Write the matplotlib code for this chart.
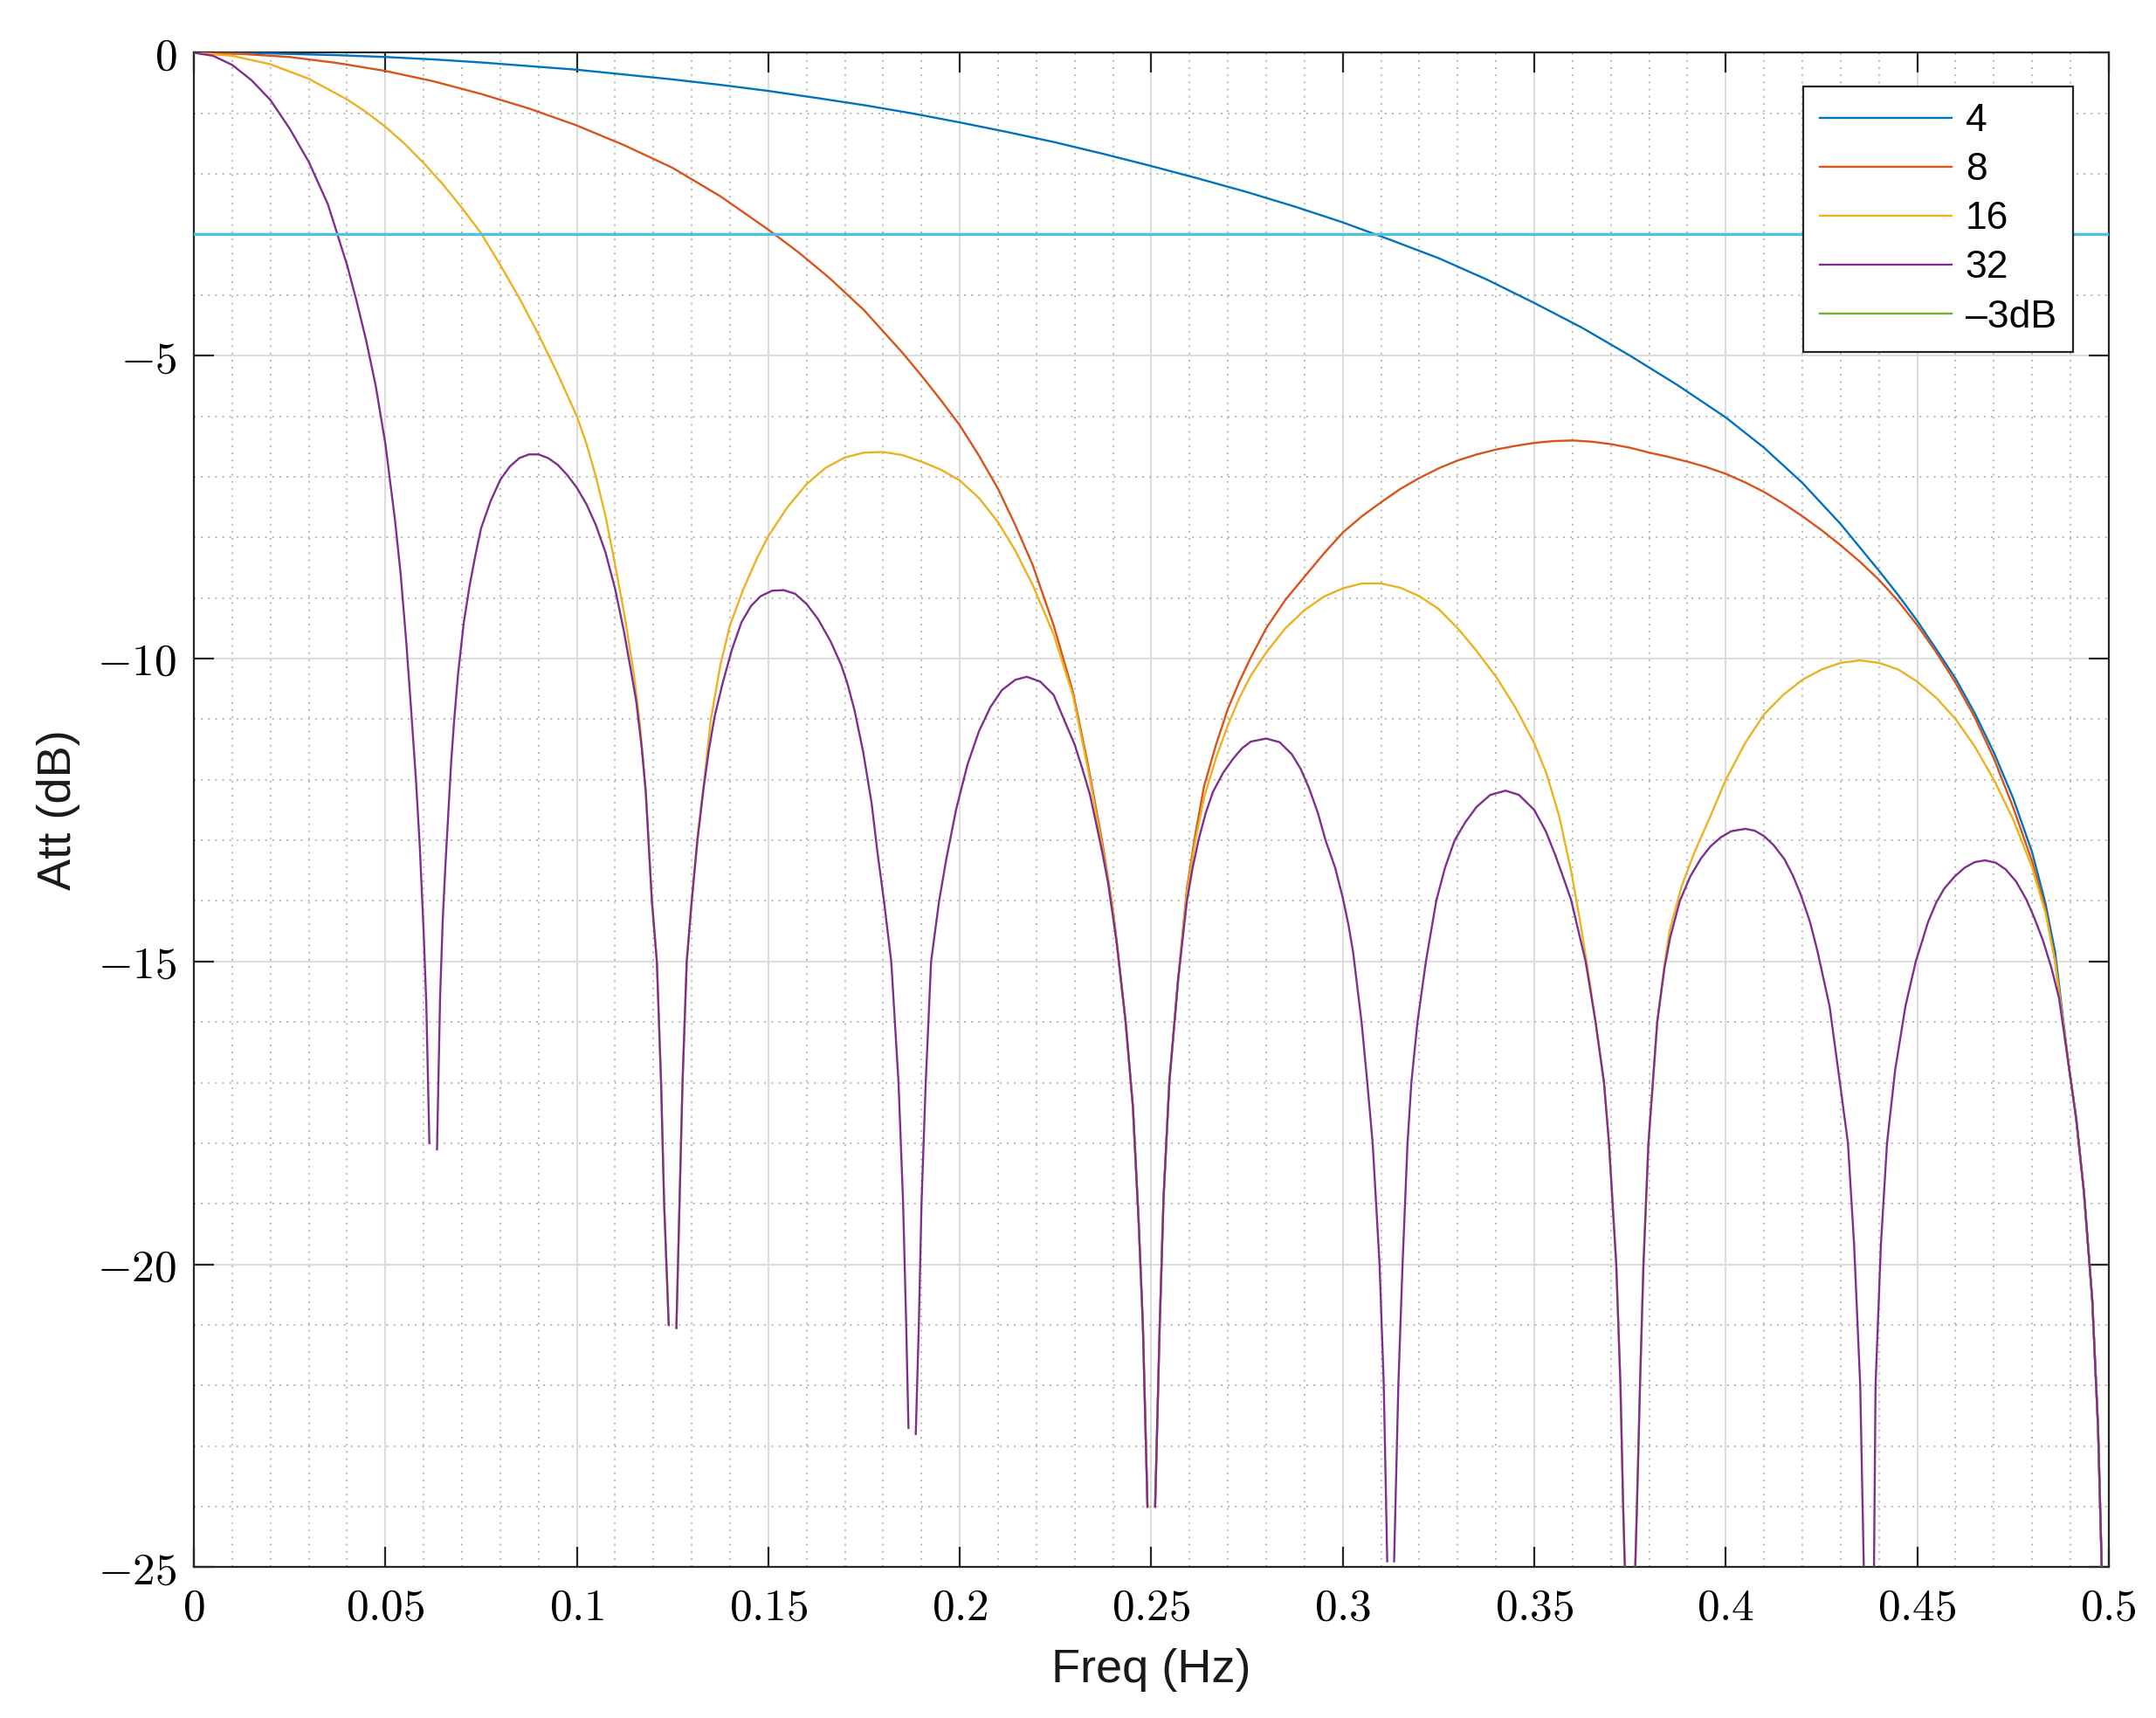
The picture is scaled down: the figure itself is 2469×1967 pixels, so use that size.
import numpy as np
import matplotlib
matplotlib.use("Agg")
import matplotlib.pyplot as plt
from matplotlib.ticker import FixedLocator, FixedFormatter, MultipleLocator

NEG_INF = float("-inf")

# ---------------- data: (freq Hz, attenuation dB) ----------------
legend_labels = ["4", "8", "16", "32", "\u20133dB"]
threshold_db = -3.0

resp4 = [(0, 0), (0.0125, 0), (0.025, -0.02), (0.0375, -0.04), (0.05, -0.07), (0.0625, -0.11),
         (0.075, -0.16), (0.0875, -0.22), (0.1, -0.28), (0.1125, -0.36), (0.125, -0.44),
         (0.1375, -0.53), (0.15, -0.63), (0.1625, -0.745), (0.175, -0.865), (0.1875, -1.0),
         (0.2, -1.15), (0.2125, -1.31), (0.225, -1.48), (0.2375, -1.67), (0.25, -1.87),
         (0.2625, -2.08), (0.275, -2.3), (0.2875, -2.54), (0.3, -2.8), (0.3125, -3.09),
         (0.325, -3.39), (0.3375, -3.74), (0.35, -4.13), (0.3625, -4.54), (0.375, -5.0),
         (0.3875, -5.49), (0.4, -6.02), (0.41, -6.52), (0.42, -7.1), (0.43, -7.78), (0.44, -8.55),
         (0.445, -8.95), (0.45, -9.38), (0.455, -9.85), (0.46, -10.33), (0.465, -10.9),
         (0.47, -11.55), (0.475, -12.3), (0.48, -13.2), (0.4835, -14.05), (0.486, -14.85),
         (0.4895, -16.7), (0.4915, -17.6), (0.4935, -18.8), (0.4957, -20.6), (0.4972, -22.7),
         (0.499, -27.0), (0.5, NEG_INF)]

resp8 = [(0, 0), (0.0125, -0.02), (0.025, -0.07), (0.0375, -0.17), (0.05, -0.3), (0.0625, -0.47),
         (0.075, -0.68), (0.0875, -0.92), (0.1, -1.2), (0.1125, -1.53), (0.125, -1.9),
         (0.1375, -2.37), (0.15, -2.92), (0.158, -3.3), (0.166, -3.72), (0.175, -4.25), (0.18, -4.6),
         (0.185, -4.95), (0.19, -5.33), (0.195, -5.73), (0.2, -6.15), (0.205, -6.65), (0.21, -7.2),
         (0.2145, -7.8), (0.219, -8.45), (0.2245, -9.45), (0.2295, -10.54), (0.2334, -11.73),
         (0.2372, -13.03), (0.24, -14.15), (0.2433, -16.0), (0.2452, -17.4), (0.2467, -19.3),
         (0.2478, -21.0), (0.249, -24.0), (0.25, NEG_INF), (0.251, -24.0), (0.2522, -21.0),
         (0.2532, -18.9), (0.2547, -17.0), (0.257, -15.3), (0.2593, -13.8), (0.2615, -12.9),
         (0.2638, -12.1), (0.267, -11.4), (0.27, -10.83), (0.273, -10.38), (0.276, -9.98),
         (0.28, -9.5), (0.285, -9.03), (0.29, -8.65), (0.295, -8.27), (0.3, -7.92), (0.305, -7.65),
         (0.31, -7.42), (0.315, -7.2), (0.32, -7.02), (0.325, -6.86), (0.33, -6.73), (0.335, -6.63),
         (0.34, -6.55), (0.345, -6.49), (0.35, -6.44), (0.355, -6.41), (0.36, -6.4), (0.365, -6.42),
         (0.37, -6.46), (0.375, -6.52), (0.38, -6.6), (0.385, -6.67), (0.39, -6.75), (0.395, -6.84),
         (0.4, -6.95), (0.405, -7.09), (0.41, -7.25), (0.415, -7.44), (0.42, -7.65), (0.425, -7.88),
         (0.43, -8.13), (0.435, -8.4), (0.44, -8.7), (0.445, -9.05), (0.45, -9.45), (0.455, -9.9),
         (0.46, -10.4), (0.465, -10.97), (0.47, -11.65), (0.475, -12.45), (0.48, -13.35),
         (0.4835, -14.15), (0.486, -15.0), (0.4895, -16.7), (0.4915, -17.6), (0.4935, -18.8),
         (0.4957, -20.6), (0.4972, -22.7), (0.499, -27.0), (0.5, NEG_INF)]

resp16 = [(0, 0), (0.01, -0.05), (0.02, -0.19), (0.03, -0.43), (0.04, -0.77), (0.045, -0.98),
          (0.05, -1.22), (0.055, -1.5), (0.06, -1.82), (0.065, -2.17), (0.07, -2.56),
          (0.075, -2.98), (0.08, -3.5), (0.085, -4.05), (0.09, -4.65), (0.095, -5.3), (0.1, -6.0),
          (0.1025, -6.45), (0.105, -7.0), (0.1075, -7.65), (0.11, -8.45), (0.1125, -9.3),
          (0.115, -10.3), (0.1165, -11.1), (0.118, -12.2), (0.1196, -14.0), (0.1209, -15.0),
          (0.122, -17.0), (0.1228, -19.0), (0.124, -21.0), (0.125, NEG_INF), (0.126, -21.05),
          (0.1268, -19.0), (0.1276, -17.0), (0.1287, -15.0), (0.13, -14.0), (0.1315, -12.95),
          (0.1331, -12.1), (0.135, -11.0), (0.1375, -10.1), (0.14, -9.45), (0.1435, -8.85),
          (0.147, -8.35), (0.15, -7.98), (0.155, -7.5), (0.16, -7.12), (0.165, -6.85),
          (0.17, -6.68), (0.175, -6.6), (0.18, -6.59), (0.185, -6.64), (0.19, -6.75),
          (0.195, -6.88), (0.2, -7.06), (0.205, -7.35), (0.21, -7.75), (0.2145, -8.22),
          (0.219, -8.78), (0.2245, -9.6), (0.2295, -10.6), (0.2334, -11.8), (0.2372, -13.1),
          (0.24, -14.15), (0.2433, -16.0), (0.2452, -17.4), (0.2467, -19.3), (0.2478, -21.0),
          (0.249, -24.0), (0.25, NEG_INF), (0.251, -24.0), (0.2522, -21.0), (0.2532, -18.9),
          (0.2547, -17.0), (0.257, -15.3), (0.2593, -13.86), (0.2615, -13.0), (0.2638, -12.29),
          (0.267, -11.62), (0.27, -11.1), (0.273, -10.65), (0.276, -10.28), (0.28, -9.9),
          (0.285, -9.5), (0.29, -9.2), (0.295, -8.98), (0.3, -8.84), (0.305, -8.76),
          (0.31, -8.76), (0.315, -8.83), (0.32, -8.97), (0.325, -9.18), (0.33, -9.5),
          (0.335, -9.88), (0.34, -10.3), (0.345, -10.8), (0.35, -11.4), (0.3532, -11.9),
          (0.3565, -12.6), (0.3596, -13.5), (0.362, -14.35), (0.3645, -15.35), (0.366, -16.0),
          (0.3682, -17.0), (0.3695, -18.0), (0.3714, -20.0), (0.3725, -22.0), (0.3732, -24.0),
          (0.374, -25.8), (0.375, NEG_INF), (0.376, -25.8), (0.3768, -24.0), (0.3776, -22.0),
          (0.3785, -20.0), (0.3798, -18.0), (0.3821, -16.0), (0.384, -15.05), (0.3853, -14.5),
          (0.3885, -13.75), (0.3918, -13.2), (0.396, -12.6), (0.4, -12.0), (0.405, -11.4),
          (0.41, -10.92), (0.415, -10.6), (0.42, -10.35), (0.425, -10.18), (0.43, -10.07),
          (0.435, -10.03), (0.44, -10.07), (0.445, -10.18), (0.45, -10.38), (0.455, -10.65),
          (0.46, -11.0), (0.465, -11.45), (0.47, -12.0), (0.475, -12.65), (0.48, -13.45),
          (0.4835, -14.2), (0.486, -15.0), (0.4895, -16.7), (0.4915, -17.6), (0.4935, -18.8),
          (0.4957, -20.6), (0.4972, -22.7), (0.499, -27.0), (0.5, NEG_INF)]

resp32 = [(0, 0), (0.005, -0.05), (0.01, -0.2), (0.015, -0.45), (0.02, -0.78), (0.025, -1.25),
          (0.03, -1.8), (0.035, -2.5), (0.0375, -3.0), (0.04, -3.5), (0.0425, -4.1), (0.045, -4.75),
          (0.0475, -5.5), (0.05, -6.45), (0.0525, -7.7), (0.054, -8.6), (0.0555, -9.75),
          (0.0568, -10.9), (0.058, -12.0), (0.059, -13.1), (0.06, -14.5), (0.0607, -15.7),
          (0.0615, -18.0), (0.0625, NEG_INF), (0.0635, -18.1), (0.0643, -15.6), (0.065, -14.3),
          (0.0657, -13.4), (0.0664, -12.6), (0.0672, -11.7), (0.068, -11.0), (0.069, -10.25),
          (0.0705, -9.4), (0.072, -8.8), (0.0735, -8.3), (0.075, -7.85), (0.0775, -7.4),
          (0.08, -7.05), (0.0825, -6.83), (0.085, -6.69), (0.0875, -6.63), (0.09, -6.63),
          (0.0925, -6.69), (0.095, -6.8), (0.0975, -6.97), (0.1, -7.18), (0.1025, -7.45),
          (0.105, -7.8), (0.1075, -8.25), (0.11, -8.85), (0.1123, -9.55), (0.114, -10.15),
          (0.1155, -10.7), (0.117, -11.5), (0.118, -12.2), (0.1196, -14.0), (0.1209, -15.0),
          (0.122, -17.0), (0.1228, -19.0), (0.124, -21.0), (0.125, NEG_INF), (0.126, -21.05),
          (0.1268, -19.0), (0.1276, -17.0), (0.1287, -15.0), (0.13, -14.0), (0.1315, -13.0),
          (0.1331, -12.14), (0.1345, -11.5), (0.136, -10.95), (0.1381, -10.4), (0.1405, -9.85),
          (0.143, -9.4), (0.1455, -9.13), (0.148, -8.97), (0.151, -8.88), (0.154, -8.87),
          (0.157, -8.93), (0.16, -9.1), (0.163, -9.35), (0.1663, -9.72), (0.169, -10.1),
          (0.1706, -10.4), (0.1725, -10.85), (0.1748, -11.55), (0.177, -12.4), (0.1785, -13.2),
          (0.1802, -14.0), (0.1821, -15.0), (0.184, -17.0), (0.1852, -19.0), (0.186, -21.0),
          (0.1866, -22.7), (0.1875, NEG_INF), (0.1885, -22.8), (0.1893, -21.0), (0.19, -19.0),
          (0.1911, -17.0), (0.1925, -15.0), (0.1946, -14.0), (0.1965, -13.3), (0.199, -12.5),
          (0.202, -11.75), (0.205, -11.2), (0.208, -10.8), (0.211, -10.52), (0.2145, -10.35),
          (0.2175, -10.3), (0.221, -10.38), (0.2245, -10.6), (0.2275, -11.05), (0.23, -11.42),
          (0.232, -11.82), (0.234, -12.25), (0.2357, -12.75), (0.2372, -13.2), (0.2387, -13.7),
          (0.241, -14.7), (0.2433, -16.0), (0.2452, -17.4), (0.2467, -19.3), (0.2478, -21.0),
          (0.249, -24.0), (0.25, NEG_INF), (0.251, -24.0), (0.2522, -21.0), (0.2532, -18.9),
          (0.2547, -17.0), (0.257, -15.3), (0.2593, -14.0), (0.2608, -13.45), (0.2623, -13.0),
          (0.2642, -12.55), (0.2661, -12.2), (0.2688, -11.88), (0.2714, -11.65), (0.2737, -11.48),
          (0.276, -11.37), (0.28, -11.32), (0.2835, -11.38), (0.2867, -11.58), (0.289, -11.82),
          (0.2912, -12.14), (0.2935, -12.55), (0.2955, -13.0), (0.298, -13.45), (0.3, -13.95),
          (0.3015, -14.4), (0.3027, -14.85), (0.3049, -16.0), (0.3064, -17.0), (0.3078, -18.0),
          (0.3096, -20.0), (0.3107, -22.0), (0.3116, -24.9), (0.3125, NEG_INF), (0.3134, -24.9),
          (0.3145, -22.0), (0.3156, -20.0), (0.3169, -18.0), (0.3179, -17.0), (0.3195, -16.0),
          (0.3217, -15.0), (0.3244, -14.0), (0.3267, -13.45), (0.3292, -13.0), (0.332, -12.7),
          (0.3349, -12.45), (0.3385, -12.25), (0.3425, -12.18), (0.346, -12.25), (0.35, -12.5),
          (0.353, -12.85), (0.3554, -13.23), (0.3575, -13.6), (0.3596, -13.98), (0.3634, -15.0),
          (0.366, -16.0), (0.3682, -17.0), (0.3695, -18.0), (0.3714, -20.0), (0.3725, -22.0),
          (0.3732, -24.0), (0.374, -25.8), (0.375, NEG_INF), (0.376, -25.8), (0.3768, -24.0),
          (0.3776, -22.0), (0.3785, -20.0), (0.3798, -18.0), (0.3821, -16.0), (0.384, -15.1),
          (0.3855, -14.6), (0.388, -14.0), (0.3907, -13.6), (0.3935, -13.3), (0.396, -13.1),
          (0.3987, -12.95), (0.4014, -12.85), (0.4051, -12.81), (0.4075, -12.84), (0.41, -12.93),
          (0.4125, -13.08), (0.4153, -13.31), (0.4175, -13.58), (0.4196, -13.9), (0.422, -14.35),
          (0.4239, -14.82), (0.4271, -15.74), (0.4298, -17.0), (0.4319, -18.0), (0.4335, -19.67),
          (0.4351, -22.0), (0.4365, -26.5), (0.4375, NEG_INF), (0.4385, -26.5), (0.4391, -22.0),
          (0.4405, -19.67), (0.4421, -18.0), (0.4442, -16.8), (0.4469, -15.74), (0.4496, -15.0),
          (0.451, -14.72), (0.4528, -14.35), (0.455, -14.02), (0.457, -13.8), (0.4597, -13.6),
          (0.4624, -13.45), (0.465, -13.36), (0.4677, -13.33), (0.4705, -13.37), (0.4731, -13.48),
          (0.4758, -13.68), (0.4785, -13.98), (0.4805, -14.27), (0.4828, -14.65), (0.485, -15.1),
          (0.487, -15.6), (0.4895, -16.7), (0.4915, -17.6), (0.4935, -18.8), (0.4957, -20.6),
          (0.4972, -22.7), (0.499, -27.0), (0.5, NEG_INF)]

x_ticks = [0, 0.05, 0.1, 0.15, 0.2, 0.25, 0.3, 0.35, 0.4, 0.45, 0.5]
x_tick_labels = ["0", "0.05", "0.1", "0.15", "0.2", "0.25", "0.3", "0.35", "0.4", "0.45", "0.5"]
y_ticks = [-25, -20, -15, -10, -5, 0]
y_tick_labels = ["-25", "-20", "-15", "-10", "-5", "0"]

# ---------------- styling ----------------
plt.rcParams["font.family"] = ["Liberation Sans", "DejaVu Sans"]
plt.rcParams["mathtext.fontset"] = "cm"

colors = ["#0072BD", "#D95319", "#EDB120", "#7E2F8E"]
green = "#77AC30"
cyan = "#4DBEEE"
axis_col = "#262626"

fig = plt.figure(figsize=(24.69, 19.67), dpi=100)
ax = fig.add_axes([0.0899, 0.0877, 0.9781 - 0.0899, 0.9693 - 0.0877])

handles = []
for resp, col, lab in zip([resp4, resp8, resp16, resp32], colors, legend_labels[:4]):
    fx = np.array([p[0] for p in resp], dtype=float)
    ay = np.array([p[1] for p in resp], dtype=float)
    h, = ax.plot(fx, ay, color=col, lw=1.7, label=lab, zorder=3,
                 solid_joinstyle="round")
    handles.append(h)

h_green = ax.axhline(threshold_db, color=green, lw=1.7, label=legend_labels[4], zorder=3.5)
handles.append(h_green)
ax.axhline(threshold_db, color=cyan, lw=2.3, zorder=4)

ax.set_xlim(0, 0.5)
ax.set_ylim(-25, 0)

ax.xaxis.set_major_locator(FixedLocator(x_ticks))
ax.xaxis.set_major_formatter(FixedFormatter(["$%s$" % t for t in x_tick_labels]))
ax.yaxis.set_major_locator(FixedLocator(y_ticks))
ax.yaxis.set_major_formatter(FixedFormatter(["$%s$" % t for t in y_tick_labels]))
ax.xaxis.set_minor_locator(MultipleLocator(0.01))
ax.yaxis.set_minor_locator(MultipleLocator(1))

ax.grid(which="major", color="#DCDCDC", lw=1.5, ls="-", zorder=0)
ax.grid(which="minor", color="#B8B8B8", lw=1.4, ls=(0, (1, 3.2)), zorder=0)
ax.set_axisbelow(True)

ax.tick_params(which="major", direction="in", length=16.5, width=1.6, color=axis_col,
               top=True, right=True, labelsize=37, labelcolor="black")
ax.tick_params(which="minor", length=0, top=True, right=True)
ax.tick_params(axis="x", which="major", pad=16)
ax.tick_params(axis="y", which="major", pad=14)
for sp in ax.spines.values():
    sp.set_color(axis_col)
    sp.set_linewidth(1.6)

ax.set_xlabel("Freq (Hz)", fontsize=39, va="center", color="#1a1a1a")
ax.xaxis.set_label_coords(0.5, -0.0678)
ax.set_ylabel("Att (dB)", fontsize=39, va="center", color="#1a1a1a")
ax.yaxis.set_label_coords(-0.0707, 0.5)

leg = ax.legend(handles=handles, loc="upper right",
                bbox_to_anchor=(2374 / 2469, 1 - 99 / 1967),
                bbox_transform=fig.transFigure, borderaxespad=0,
                fontsize=32, frameon=True, fancybox=False, framealpha=1,
                edgecolor=axis_col, handlelength=3.4, handletextpad=0.36,
                labelspacing=0.34, borderpad=0.43)
leg.get_frame().set_linewidth(1.6)
for line in leg.get_lines():
    line.set_linewidth(1.7)

fig.savefig("out.png", dpi=100, facecolor="white")
